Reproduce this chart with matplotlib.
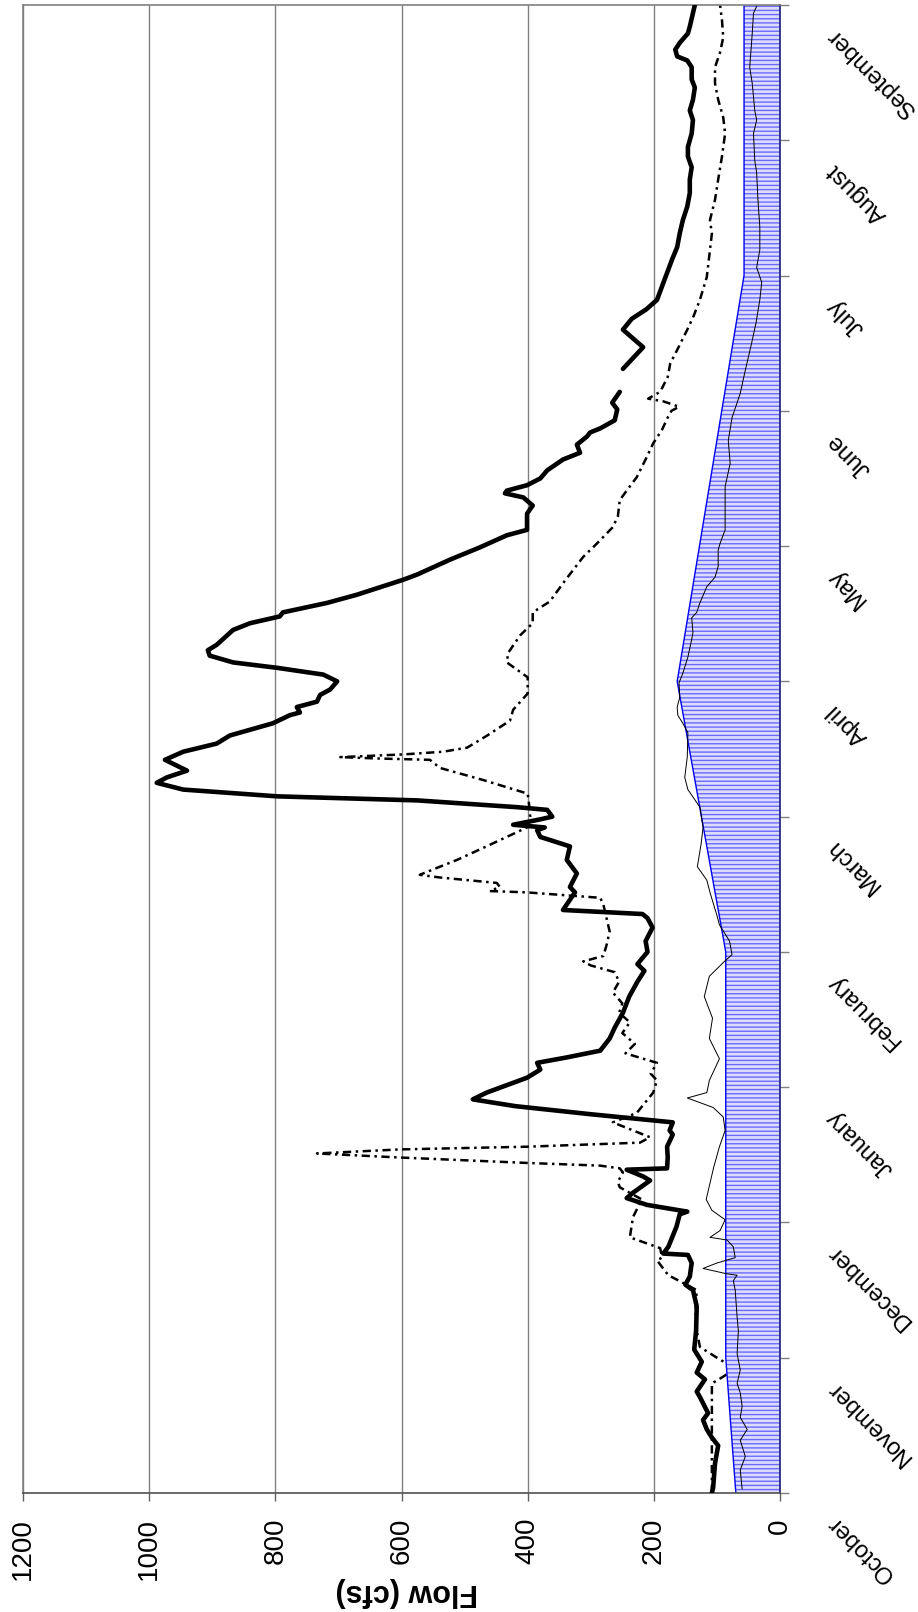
import numpy as np
import matplotlib
matplotlib.use("Agg")
import matplotlib.pyplot as plt
import matplotlib.transforms as mtransforms

plt.rcParams["font.family"] = ["Liberation Sans", "DejaVu Sans"]
plt.rcParams["hatch.linewidth"] = 1.0

nan = np.nan

MONTHS = ["October", "November", "December", "January", "February", "March",
          "April", "May", "June", "July", "August", "September"]
FLOW_TICKS = [0, 200, 400, 600, 800, 1000, 1200]

# minimum flow requirement, breakpoints in month units
req_pos = [0, 1, 4, 6, 9, 11]
req_cfs = [70, 86, 86, 163, 57, 57]

# wet year (thick line)
thick_pos = [
    0.00, 0.04, 0.22, 0.35, 0.41, 0.47, 0.54, 0.59, 0.71, 0.75,
    0.84, 0.89, 0.97, 1.06, 1.20, 1.38, 1.50, 1.54, 1.60, 1.70,
    1.76, 1.77, 1.82, 1.89, 1.97, 2.06, 2.08, 2.13, 2.18, 2.22,
    2.31, 2.34, 2.39, 2.40, 2.48, 2.56, 2.65, 2.68, 2.74, 2.80,
    2.86, 2.91, 2.96, 3.07, 3.13, 3.18, 3.22, 3.27, 3.36, 3.44,
    3.55, 3.67, 3.78, 3.86, 3.91, 4.00, 4.08, 4.18, 4.25, 4.28,
    4.31, 4.44, 4.48, 4.58, 4.68, 4.78, 4.85, 4.90, 4.92, 4.94,
    4.98, 5.00, 5.05, 5.07, 5.12, 5.15, 5.20, 5.25, 5.29, 5.34,
    5.42, 5.48, 5.54, 5.60, 5.69, 5.75, 5.77, 5.81, 5.85, 5.90,
    5.94, 6.00, 6.05, 6.10, 6.14, 6.19, 6.23, 6.27, 6.38, 6.43,
    6.48, 6.51, 6.58, 6.64, 6.75, 6.79, 6.90, 6.99, 7.08, 7.12,
    7.24, 7.30, 7.36, 7.39, 7.41, 7.45, 7.50, 7.56, 7.64, 7.69,
    7.75, 7.81, 7.84, 7.87, 7.93, 8.01, 8.06, 8.14, 8.22, 8.31,
    8.47, 8.60, 8.68, 8.75, 8.82, 8.92, 9.02, 9.12, 9.21, 9.31,
    9.41, 9.51, 9.61, 9.71, 9.80, 9.88, 9.95, 10.05, 10.15, 10.22,
    10.30, 10.39, 10.45, 10.54, 10.59, 10.62, 10.67, 10.72, 10.79, 10.84,
    10.94, 11.00]
thick_cfs = [
    108, 106, 103, 98, 108, 116, 122, 114, 127, 132,
    119, 132, 124, 136, 133, 132, 138, 150, 143, 140,
    146, 185, 177, 171, 164, 159, 147, 211, 243, 233,
    206, 217, 243, 179, 178, 179, 170, 175, 170, 300,
    420, 487, 465, 401, 380, 385, 338, 285, 270, 262,
    249, 239, 226, 215, 226, 210, 213, 202, 210, 218,
    344, 325, 333, 322, 338, 333, 380, 385, 373, 423,
    380, 361, 369, 417, 575, 797, 946, 988, 972, 940,
    975, 946, 893, 872, 804, 777, 761, 766, 734, 729,
    713, 702, 724, 797, 867, 904, 907, 893, 867, 840,
    793, 788, 718, 671, 598, 575, 523, 476, 433, 401,
    401, 392, 407, 436, 433, 401, 380, 369, 344, 317,
    322, 306, 301, 285, 262, 258, 266, 254, nan, 249,
    217, 249, 235, 212, 195, 187, 179, 171, 163, 159,
    154, 147, 143, 143, 140, 146, 146, 140, 138, 143,
    138, 135, 140, 140, 147, 163, 166, 159, 146, 143,
    138, 135]

# average year (dash-dot line)
dd_pos = [
    0.00, 0.35, 0.81, 0.86, 0.92, 1.00, 1.08, 1.20, 1.35, 1.50,
    1.61, 1.72, 1.74, 1.81, 1.89, 2.04, 2.17, 2.26, 2.30, 2.37,
    2.40, 2.42, 2.44, 2.48, 2.51, 2.54, 2.56, 2.59, 2.63, 2.74,
    2.81, 2.96, 3.05, 3.10, 3.18, 3.25, 3.32, 3.40, 3.48, 3.55,
    3.62, 3.70, 3.78, 3.85, 3.90, 3.93, 3.97, 4.05, 4.15, 4.25,
    4.35, 4.40, 4.44, 4.45, 4.48, 4.51, 4.55, 4.57, 4.63, 4.68,
    4.77, 4.92, 5.00, 5.10, 5.17, 5.27, 5.36, 5.42, 5.43, 5.44,
    5.46, 5.48, 5.51, 5.60, 5.71, 5.79, 5.91, 6.03, 6.14, 6.21,
    6.34, 6.43, 6.51, 6.59, 6.75, 6.92, 7.02, 7.14, 7.22, 7.34,
    7.41, 7.51, 7.66, 7.76, 7.86, 7.95, 8.00, 8.03, 8.07, 8.09,
    8.14, 8.25, 8.35, 8.45, 8.60, 8.70, 8.82, 8.99, 9.31, 9.41,
    9.56, 9.71, 9.88, 10.05, 10.17, 10.30, 10.42, 10.54, 10.65, 10.76,
    10.89, 11.00]
dd_cfs = [
    108, 108, 108, 90, 71, 100, 127, 132, 134, 132,
    177, 195, 187, 190, 238, 233, 219, 254, 257, 249,
    254, 285, 401, 602, 734, 602, 401, 222, 206, 265,
    227, 201, 195, 205, 195, 245, 230, 250, 238, 255,
    250, 265, 255, 262, 300, 312, 280, 275, 270, 275,
    280, 285, 401, 460, 444, 449, 539, 571, 539, 512,
    470, 401, 396, 398, 400, 470, 539, 555, 639, 697,
    597, 534, 496, 464, 428, 423, 400, 400, 433, 431,
    412, 392, 392, 365, 340, 312, 290, 265, 257, 254,
    243, 227, 211, 201, 187, 178, 172, 160, 185, 209,
    190, 178, 174, 163, 147, 137, 127, 116, 108, 111,
    103, 98, 92, 87, 90, 98, 103, 103, 95, 90,
    92, 95]

# dry year (thin line)
thin_pos = [
    0.03, 0.17, 0.27, 0.39, 0.47, 0.56, 0.64, 0.74, 0.81, 0.91,
    1.03, 1.20, 1.30, 1.50, 1.57, 1.61, 1.62, 1.66, 1.70, 1.74,
    1.82, 1.87, 1.89, 1.94, 2.02, 2.09, 2.17, 2.29, 2.41, 2.56,
    2.68, 2.78, 2.85, 2.92, 2.96, 3.05, 3.21, 3.36, 3.51, 3.67,
    3.82, 3.93, 3.98, 4.08, 4.20, 4.27, 4.44, 4.53, 4.63, 4.80,
    4.92, 5.07, 5.20, 5.29, 5.44, 5.62, 5.69, 5.75, 5.81, 5.88,
    5.99, 6.06, 6.18, 6.31, 6.36, 6.47, 6.51, 6.58, 6.70, 6.77,
    6.85, 6.97, 7.02, 7.12, 7.44, 7.61, 7.78, 7.95, 8.06, 8.13,
    8.30, 8.50, 8.65, 8.82, 8.95, 9.06, 9.19, 9.36, 9.56, 9.76,
    9.85, 10.05, 10.15, 10.22, 10.42, 10.54, 10.79, 10.94, 10.99]
thin_cfs = [
    60, 63, 55, 63, 52, 63, 60, 63, 68, 63,
    68, 66, 68, 71, 74, 68, 84, 122, 100, 71,
    74, 84, 111, 95, 87, 108, 117, 111, 105, 96,
    87, 90, 106, 147, 116, 112, 96, 112, 107, 120,
    112, 88, 76, 80, 96, 100, 111, 116, 131, 125,
    122, 127, 146, 151, 147, 146, 154, 162, 163, 159,
    160, 154, 146, 140, 138, 140, 132, 127, 116, 103,
    98, 98, 95, 87, 87, 79, 82, 76, 68, 63,
    55, 45, 38, 32, 29, 37, 32, 32, 35, 37,
    40, 42, 37, 40, 44, 48, 44, 42, 37]

W, H = 918, 1612
fig = plt.figure(figsize=(W / 100, H / 100), dpi=100)
ax = fig.add_axes([23 / W, 1 - 1493 / H, (780 - 23) / W, (1493 - 5) / H])
ax.set_xlim(1200, 0)
ax.set_ylim(0, 11)

# required flow band, hatched, sits above the dash-dot series
ax.fill_betweenx(req_pos, 0, req_cfs, facecolor="#dcdcff", edgecolor="#6a6aff",
                 hatch="----", linewidth=0, zorder=2)
ax.plot(req_cfs, req_pos, color="#0000ee", lw=1.0, zorder=2.5)

ax.plot(dd_cfs, dd_pos, color="black", lw=1.8, ls=(0, (3.3, 1.8, 1.0, 1.8)), zorder=1.5)
ax.plot(thin_cfs, thin_pos, color="black", lw=0.7, zorder=3)
ax.plot(thick_cfs, thick_pos, color="black", lw=3.3, zorder=4,
        solid_capstyle="round", solid_joinstyle="round")

ax.set_xticks(FLOW_TICKS)
ax.grid(axis="x", color="#808080", lw=1.0)
ax.set_axisbelow(True)
ax.tick_params(axis="x", direction="out", length=6, width=1, color="#606060",
               labelsize=20, labelrotation=90, pad=12)

ax.set_yticks(range(len(MONTHS)))
ax.yaxis.tick_right()
ax.tick_params(axis="y", direction="out", length=6.5, width=1, color="#808080",
               labelright=False, labelleft=False)

for side in ["left", "top", "right"]:
    ax.spines[side].set_color("#808080")
    ax.spines[side].set_linewidth(1.2)
ax.spines["right"].set_color("#1a1a80")
ax.spines["bottom"].set_color("#505050")
ax.spines["bottom"].set_linewidth(1.2)

# month names hang off the right axis
shift = mtransforms.ScaledTranslation(55 / 100, -22 / 100, fig.dpi_scale_trans)
trans = mtransforms.blended_transform_factory(ax.transAxes, ax.transData) + shift
for i, name in enumerate(MONTHS):
    ax.text(1, i, name, transform=trans, rotation=135, rotation_mode="anchor",
            ha="right", va="baseline", fontsize=17, clip_on=False)

ax.set_xlabel("Flow (cfs)", fontsize=22, fontweight="bold", rotation=180, va="center")
ax.xaxis.set_label_coords(0.5066, -99 / 1488)

fig.savefig("out.png", dpi=100)
